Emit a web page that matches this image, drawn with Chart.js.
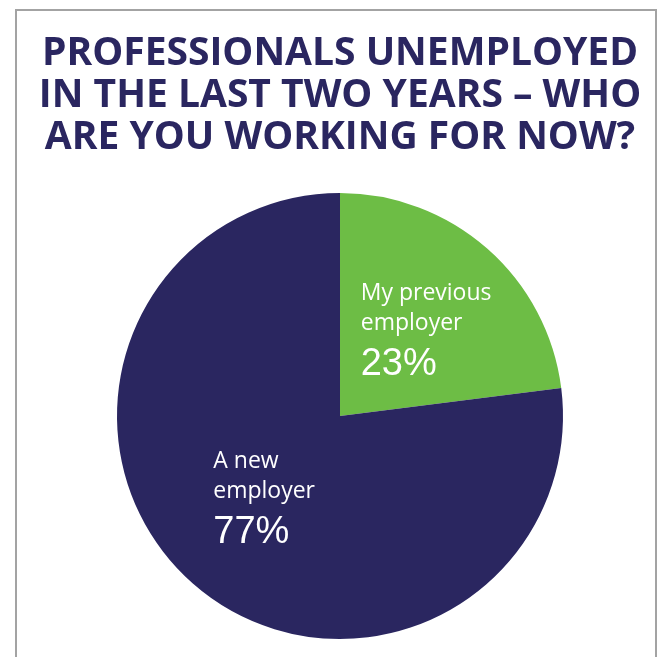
<!DOCTYPE html>
<html>
<head>
<meta charset="utf-8">
<script src="https://cdn.jsdelivr.net/npm/chart.js@4/dist/chart.umd.min.js"></script>
<style>
  html, body { margin: 0; padding: 0; background: #fff; overflow: hidden; }
  .frame {
    position: absolute; left: 15px; top: 9px;
    width: 638px; height: 700px;
    border: 2px solid #a3a3a3;
  }
  .frame canvas { display: block; }
</style>
</head>
<body>
<div class="frame">
  <canvas id="myChart" width="638" height="646"></canvas>
</div>
<script>
var labels = [['My previous', 'employer'], ['A new', 'employer']];
var values = [23, 77];
var colors = ['#6dbd45', '#2a2660'];
var title = ['PROFESSIONALS UNEMPLOYED', 'IN THE LAST TWO YEARS \u2013 WHO', 'ARE YOU WORKING FOR NOW?'];

// white caption inside each slice: label lines plus the percentage
var sliceLabels = {
    id: 'sliceLabels',
    afterDatasetsDraw: function (chart) {
        var c = chart.ctx;
        var arcs = chart.getDatasetMeta(0).data;
        c.save();
        c.fillStyle = '#ffffff';
        c.textAlign = 'left';
        c.textBaseline = 'alphabetic';
        arcs.forEach(function (arc, i) {
            var p = arc.getCenterPoint();
            var x = p.x - 53;
            var lines = chart.data.labels[i];
            c.font = '23px "Open Sans", sans-serif';
            c.fillText(lines[0], x, p.y - 32);
            c.fillText(lines[1], x, p.y - 2);
            c.font = '38px "Liberation Sans", Arial, sans-serif';
            c.fillText(chart.data.datasets[0].data[i] + '%', x, p.y + 43);
        });
        c.restore();
    }
};

var ctx = document.getElementById('myChart').getContext('2d');
var myChart = new Chart(ctx, {
    type: 'pie',
    data: {
        labels: labels,
        datasets: [{
            data: values,
            backgroundColor: colors,
            borderWidth: 0
        }]
    },
    options: {
        responsive: false,
        animation: false,
        layout: {
            padding: { left: 8, right: 0, top: 0, bottom: 18 }
        },
        plugins: {
            legend: { display: false },
            tooltip: { enabled: false },
            title: {
                display: true,
                text: title,
                color: '#2a2660',
                font: {
                    family: '"Open Sans", sans-serif',
                    size: 39,
                    weight: 'bold',
                    lineHeight: 1.077
                },
                padding: { top: 21.5, bottom: 34.5 }
            }
        }
    },
    plugins: [sliceLabels]
});
</script>
</body>
</html>
